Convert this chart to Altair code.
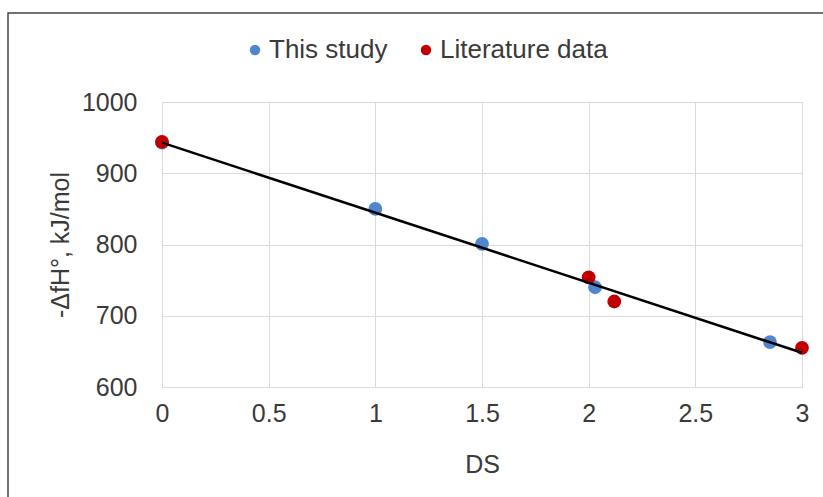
import altair as alt
import pandas as pd

# Enthalpy of formation versus degree of substitution (DS)
study_ds = [0.0, 1.0, 1.5, 2.03, 2.85]
study_h = [943, 850, 801, 740, 663]

lit_ds = [0.0, 2.0, 2.12, 3.0]
lit_h = [944, 754, 720, 655]

# Linear trend line end points
line_ds = [0.0, 3.0]
line_h = [943, 648]

series_names = ["This study", "Literature data"]
series_colors = ["#4f87cf", "#c00000"]

points = pd.concat([
    pd.DataFrame({"DS": study_ds, "H": study_h, "series": series_names[0], "order": 0}),
    pd.DataFrame({"DS": lit_ds, "H": lit_h, "series": series_names[1], "order": 1}),
])
trend = pd.DataFrame({"DS": line_ds, "H": line_h})

FONT = "Liberation Sans"
TXT = "#3a3a3a"
FS = 25

x_scale = alt.Scale(domain=[0, 3], nice=False, zero=False)
y_scale = alt.Scale(domain=[600, 1000], nice=False, zero=False)

x_axis = alt.Axis(
    values=[0, 0.5, 1, 1.5, 2, 2.5, 3], format="~g", title="DS",
    grid=True, gridColor="#d9d9d9", domain=True, domainColor="#d9d9d9",
    ticks=False, labelFlush=False, labelPadding=14, labelFontSize=FS,
    labelFont=FONT, labelColor=TXT, titleFont=FONT, titleFontSize=FS,
    titleFontWeight="normal", titleColor=TXT, titlePadding=26,
)
y_axis = alt.Axis(
    values=[600, 700, 800, 900, 1000], format="d", title="-ΔfH°, kJ/mol",
    grid=True, gridColor="#d9d9d9", domain=False, ticks=False,
    labelFlush=False, labelPadding=25, labelFontSize=FS, labelFont=FONT,
    labelColor=TXT, titleFont=FONT, titleFontSize=FS,
    titleFontWeight="normal", titleColor=TXT, titlePadding=8,
)

scatter = alt.Chart(points).mark_circle(size=190, opacity=1).encode(
    x=alt.X("DS:Q", scale=x_scale, axis=x_axis),
    y=alt.Y("H:Q", scale=y_scale, axis=y_axis),
    color=alt.Color(
        "series:N",
        scale=alt.Scale(domain=series_names, range=series_colors),
        legend=alt.Legend(
            title=None, orient="none", legendX=80, legendY=-65, padding=0,
            direction="horizontal", symbolType="circle", symbolSize=110,
            labelFont=FONT, labelFontSize=26, labelColor=TXT, labelLimit=400,
            columnPadding=25, symbolOffset=0, labelOffset=1,
        ),
    ),
    order=alt.Order("order:Q"),
)

line = alt.Chart(trend).mark_line(color="black", strokeWidth=2.5).encode(
    x=alt.X("DS:Q", scale=x_scale),
    y=alt.Y("H:Q", scale=y_scale),
)

# Outer chart frame
frame = alt.Chart(pd.DataFrame({"k": [0]})).mark_rect(
    fill=None, stroke="#444444", strokeWidth=1.5
).encode(
    x=alt.value(-154), x2=alt.value(720),
    y=alt.value(-89), y2=alt.value(500),
)

chart = alt.layer(frame, scatter, line).properties(
    width=640, height=285,
    autosize=alt.AutoSizeParams(type="none"),
    padding={"left": 162, "top": 102, "right": 21, "bottom": 110},
).configure_view(stroke=None).configure(background="white")

chart.save("out.html", embed_options={"renderer": "svg", "actions": False})
